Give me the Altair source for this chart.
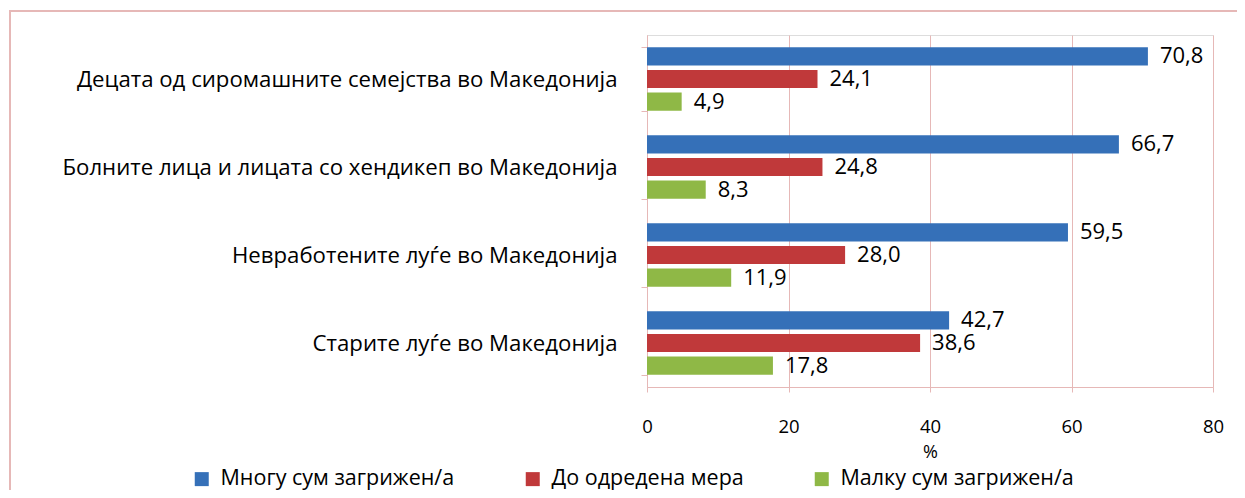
import altair as alt
import pandas as pd

categories = [
    "Децата од сиромашните семејства во Македонија",
    "Болните лица и лицата со хендикеп во Македонија",
    "Невработените луѓе во Македонија",
    "Старите луѓе во Македонија",
]
series = ["Многу сум загрижен/а", "До одредена мера", "Малку сум загрижен/а"]
values_many = [70.8, 66.7, 59.5, 42.7]
values_some = [24.1, 24.8, 28.0, 38.6]
values_little = [4.9, 8.3, 11.9, 17.8]
colors = ["#3570b8", "#c0393a", "#8fb846"]
x_ticks = [0, 20, 40, 60, 80]

rows = []
for i, c in enumerate(categories):
    for s, vals in zip(series, [values_many, values_some, values_little]):
        rows.append({"cat": c, "series": s, "value": vals[i]})
df = pd.DataFrame(rows)

FONT = "Open Sans"
W, H = 566, 352
PINK = "#e6b8b7"

y_enc = alt.Y("cat:N", sort=categories, title=None,
              scale=alt.Scale(paddingInner=0.28, paddingOuter=0.14),
              axis=alt.Axis(tickBand="extent", domainColor=PINK, tickColor=PINK,
                            tickSize=6, labelFont=FONT, labelFontSize=22.2,
                            labelColor="#000", labelPadding=24, labelLimit=700,
                            grid=False))
x_enc = alt.X("value:Q", title="%",
              scale=alt.Scale(domain=[0, 80]),
              axis=alt.Axis(values=x_ticks, grid=True, gridColor=PINK, domainColor=PINK,
                            tickColor=PINK, tickSize=5, labelFont=FONT, labelFontSize=18.5,
                            labelColor="#000", labelPadding=25, labelFlush=False,
                            titleFont=FONT, titleFontSize=18, titleFontWeight="normal",
                            titlePadding=8, titleColor="#000"))
yoff = alt.YOffset("series:N", sort=series,
                   scale=alt.Scale(paddingInner=0.2, paddingOuter=0.0))

bars = alt.Chart(df).mark_bar().encode(
    y=y_enc, x=x_enc, yOffset=yoff,
    color=alt.Color("series:N", sort=series,
                    scale=alt.Scale(domain=series, range=colors),
                    legend=alt.Legend(title=None, orient="none", direction="horizontal",
                                      legendX=-456, legendY=433, symbolType="square",
                                      symbolSize=196, symbolStrokeWidth=0,
                                      labelFont=FONT, labelFontSize=21.5, labelColor="#000",
                                      labelOffset=8, columnPadding=67, labelLimit=400,
                                      symbolOffset=0)),
)

labels = alt.Chart(df).transform_calculate(
    label="replace(format(datum.value, '.1f'), '.', ',')"
).mark_text(align="left", baseline="middle", dx=12, font=FONT, fontSize=22,
            color="#000").encode(
    y=alt.Y("cat:N", sort=categories), x=alt.X("value:Q"), yOffset=yoff,
    text="label:N",
)

border = alt.Chart(pd.DataFrame({"a": [0]})).mark_rect(
    fill=None, stroke=PINK, strokeWidth=2
).encode(x=alt.value(-637), x2=alt.value(W + 60), y=alt.value(-24), y2=alt.value(H + 140))

chart = alt.layer(border, bars, labels).properties(
    width=W, height=H,
    autosize=alt.AutoSizeParams(type="none"),
    padding={"left": 639, "top": 27, "right": 24, "bottom": 103},
).configure_view(stroke=None).configure(background="white")

chart.save("out.html", embed_options={"renderer": "svg", "actions": False})
